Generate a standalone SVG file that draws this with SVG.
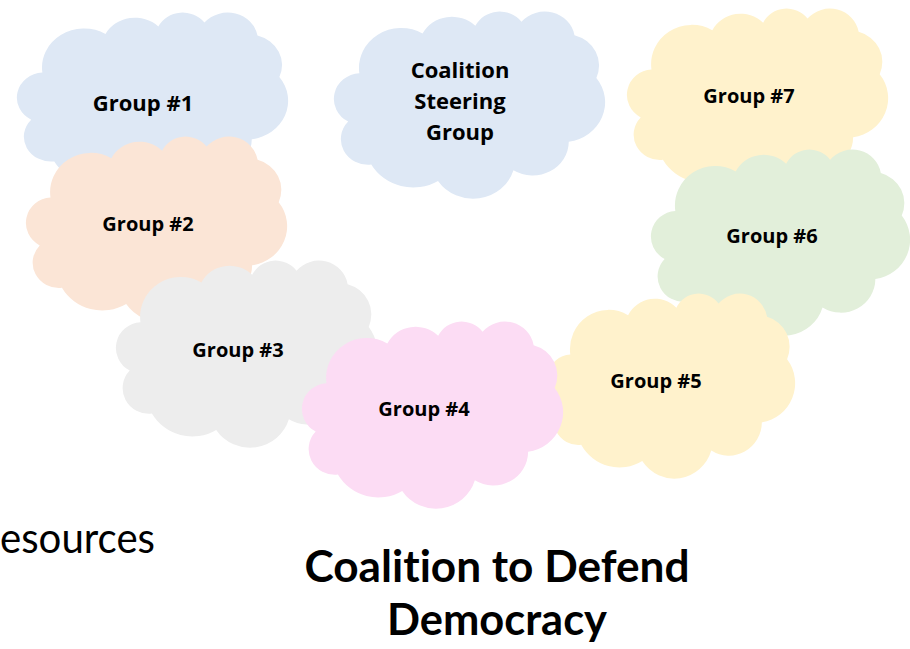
<svg xmlns="http://www.w3.org/2000/svg" xmlns:xlink="http://www.w3.org/1999/xlink" width="910" height="649" viewBox="0 0 910 649">
  <defs>
    <path id="cloud" d="M 39,143.7 A 67.53 91.9 0 0 1 140.04 52.01 A 53.33 72.67 0 0 1 224.55 34.31 A 43.65 59.45 0 0 1 298.32 24.8 A 48.57 65.95 0 0 1 383.18 55.73 A 53.33 72.73 0 0 1 418.18 154.56 A 67.75 92.2 0 0 1 374.04 301.98 A 57.85 78.67 0 0 1 285.55 368.08 A 67.52 92.15 0 0 1 164.8 392.6 A 77.2 105.43 0 0 1 58.03 354.67 A 43.6 59.18 0 0 1 21.13 255.46 A 43.45 59.45 0 0 1 39 143.7 Z"/>
  </defs>
  <style>
    .lbl { font-family: "Open Sans", "DejaVu Sans", sans-serif; font-weight: bold; font-size: 20px; fill: #000; text-anchor: middle; }
    .big { font-size: 22px; }
    .title { font-family: Lato, "Liberation Sans", sans-serif; font-weight: bold; font-size: 44px; fill: #000; text-anchor: middle; font-variant-ligatures: none; }
    .side { font-family: Lato, "Liberation Sans", sans-serif; font-size: 43px; fill: #000; font-variant-ligatures: none; }
    .blue { fill: #DEE8F5; }
    .peach { fill: #FBE5D6; }
    .gray { fill: #EDEDED; }
    .pink { fill: #FCDCF4; }
    .yellow { fill: #FFF2CC; }
    .green { fill: #E2EFDA; }
  </style>
  <rect width="910" height="649" fill="#FFFFFF"/>
  <g id="connectors"/>
  <g id="group1">
    <use href="#cloud" xlink:href="#cloud" class="blue" transform="translate(18,12) scale(0.625,0.4213)"/>
    <text class="lbl big" x="143" y="111">Group #1</text>
  </g>
  <g id="group2">
    <use href="#cloud" xlink:href="#cloud" class="peach" transform="translate(27,136) scale(0.6019,0.4282)"/>
    <text class="lbl" x="148" y="231">Group #2</text>
  </g>
  <g id="group3">
    <use href="#cloud" xlink:href="#cloud" class="gray" transform="translate(117,260) scale(0.6019,0.4329)"/>
    <text class="lbl" x="238" y="357">Group #3</text>
  </g>
  <g id="steering">
    <use href="#cloud" xlink:href="#cloud" class="blue" transform="translate(335,11) scale(0.625,0.4329)"/>
    <text class="lbl big" x="460" y="78">Coalition</text>
    <text class="lbl big" x="460" y="109">Steering</text>
    <text class="lbl big" x="460" y="140">Group</text>
  </g>
  <g id="group7">
    <use href="#cloud" xlink:href="#cloud" class="yellow" transform="translate(628,8) scale(0.6019,0.4282)"/>
    <text class="lbl" x="749" y="103">Group #7</text>
  </g>
  <g id="group6">
    <use href="#cloud" xlink:href="#cloud" class="green" transform="translate(652,149) scale(0.5972,0.4306)"/>
    <text class="lbl" x="772" y="243">Group #6</text>
  </g>
  <g id="group5">
    <use href="#cloud" xlink:href="#cloud" class="yellow" transform="translate(548,293) scale(0.5718,0.4282)"/>
    <text class="lbl" x="656" y="388">Group #5</text>
  </g>
  <g id="group4">
    <use href="#cloud" xlink:href="#cloud" class="pink" transform="translate(303,321) scale(0.6019,0.4329)"/>
    <text class="lbl" x="424" y="416">Group #4</text>
  </g>
  <g id="titles">
    <text class="side" x="0" y="553" textLength="155" lengthAdjust="spacingAndGlyphs">esources</text>
    <text class="title" x="497" y="582" textLength="385" lengthAdjust="spacingAndGlyphs">Coalition to Defend</text>
    <text class="title" x="497" y="635" textLength="220" lengthAdjust="spacingAndGlyphs">Democracy</text>
  </g>
</svg>
